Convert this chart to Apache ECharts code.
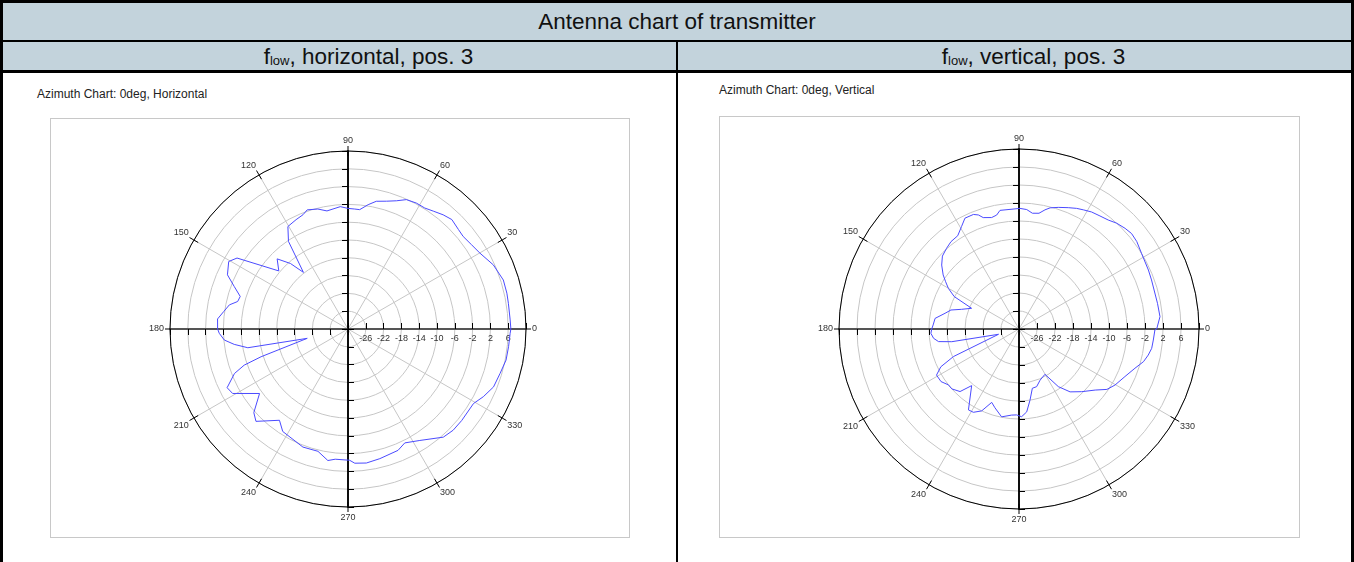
<!DOCTYPE html>
<html>
<head>
<meta charset="utf-8">
<title>Antenna chart of transmitter</title>
<script src="https://cdn.jsdelivr.net/npm/echarts/dist/echarts.min.js"></script>
<style>
body { margin: 0; width: 1354px; height: 562px; overflow: hidden; background: #fff; position: relative;
       font-family: 'Liberation Sans', Arial, sans-serif; color: #111; }
.blk { position: absolute; background: #000; }
.band { position: absolute; background: #c3d3dc; text-align: center; font-size: 22.5px; white-space: nowrap; }
.band sub { font-size: 13px; vertical-align: baseline; position: relative; top: 1px; }
.frame { position: absolute; border: 1px solid #c8c8c8; box-sizing: border-box; }
.cap { position: absolute; font-size: 12px; color: #222; white-space: nowrap; }
#chart { position: absolute; left: 0; top: 0; width: 1354px; height: 562px; }
</style>
</head>
<body>
<div class="band" style="left:0;top:3px;width:1354px;height:37px;line-height:38px;">Antenna chart of transmitter</div>
<div class="band" style="left:3px;top:42px;width:673px;height:28px;line-height:30px;"><span style="position:relative;left:29px">f<sub>low</sub>, horizontal, pos. 3</span></div>
<div class="band" style="left:678px;top:42px;width:673px;height:28px;line-height:30px;"><span style="position:relative;left:19px">f<sub>low</sub>, vertical, pos. 3</span></div>
<div class="blk" style="left:0;top:0;width:1354px;height:3px;"></div>
<div class="blk" style="left:0;top:40px;width:1354px;height:2px;"></div>
<div class="blk" style="left:0;top:70px;width:1354px;height:3px;"></div>
<div class="blk" style="left:0;top:0;width:3px;height:562px;"></div>
<div class="blk" style="left:1351px;top:0;width:3px;height:562px;"></div>
<div class="blk" style="left:676px;top:40px;width:2px;height:522px;"></div>

<div class="cap" style="left:37px;top:87px;">Azimuth Chart: 0deg, Horizontal</div>
<div class="frame" style="left:50px;top:118px;width:580px;height:420px;"></div>
<div class="cap" style="left:719px;top:83px;">Azimuth Chart: 0deg, Vertical</div>
<div class="frame" style="left:719px;top:116px;width:581px;height:422px;"></div>

<div id="chart"></div>
<script>
// gain in dB over azimuth in degrees
var hAngles = [0, 3.2, 9.1, 12.7, 17.5, 23.8, 29.9, 34.3, 38.8, 42, 46.5, 50.2, 54.1, 57.6, 61.5, 65.7, 69.3, 73.2, 77.5, 80.8,
    84.4, 86.8, 90, 93.6, 100.1, 104.1, 108.9, 111.5, 115.4, 120.4, 124.2, 128.2, 131.3, 135.3, 140, 147.4, 150.5, 155.8, 159.5, 163.2,
    166, 168.5, 172, 175.6, 180, 181.9, 185.1, 187.7, 190.6, 192.9, 197.7, 199.2, 201.4, 205.9, 209.2, 216.1, 221.6, 225.1, 233.1, 237.5,
    249.1, 256.2, 261.3, 264.4, 270.7, 272.9, 277.8, 283.8, 292.4, 296.5, 302.8, 311.4, 316.1, 321.2, 329.3, 333.4, 338.3, 343.7, 348.9, 353.7,
    358.5, 360];
var hGain = [6.6, 6.5, 6.5, 6.6, 6.6, 5.7, 4.2, 3.6, 3.2, 3.4, 3.9, 3.4, 2.7, 2.2, 2.2, 1.9, 0.8, 0.0, -0.6, -1.7,
    -3.05, -3.0, -2.9, -2.45, -3.05, -2.2, -1.7, -2.4, -2.8, -3.3, -6.2, -13.8, -10.4, -7.6, -9.7, -0.4, 0.8, -0.3, -2.7, -4.7,
    -4.45, -2.8, -1.8, -0.6, -0.7, -1.05, -2.1, -4.2, -7.1, -20.6, -9.5, -5.3, -2.6, 0.2, -0.3, -5.4, -1.7, -0.7, -4.35, -2.7,
    -1.6, -1.7, -0.1, -0.6, -0.5, 0.2, 0.4, 0.0, -0.5, -1.4, -0.2, 2.4, 2.8, 2.8, 2.8, 4.0, 5.2, 5.6, 6.2, 6.3,
    6.45, 6.6];

var vAngles = [0, 5, 10.5, 20.3, 24.5, 31.7, 36.6, 40.3, 43.5, 47.3, 50.7, 54.4, 58.2, 61.6, 64.5, 67.9, 72.1, 75.6, 77.7, 80.2,
    83.4, 86.3, 89.5, 99.1, 101.1, 103.8, 107.8, 109.6, 111.7, 116, 119.3, 123.3, 127.9, 131.9, 136.4, 140.4, 144.5, 147.2, 150.1, 153.4,
    156.4, 161.1, 164.4, 168, 172.8, 177.3, 180, 182.8, 186.2, 188.9, 190.7, 194.5, 202.8, 205.8, 209.2, 214, 218.4, 221.7, 226.7, 230.1,
    238, 241.3, 245.5, 249.6, 253, 258.8, 265.1, 268.4, 271.7, 275.3, 278.8, 282.7, 287, 292.4, 299.8, 304.3, 309.1, 315, 321.3, 325.5,
    329.7, 335.8, 341.3, 345.3, 348.6, 351.7, 355.3, 359.6, 360];
var vGain = [0.6, 1.45, 1.3, 1.4, 1.6, 2.0, 2.6, 2.8, 2.5, 2.0, 1.3, 0.9, 0.6, 0.1, -0.3, -0.9, -1.6, -2.2, -2.9, -3.9,
    -4.1, -3.4, -3.2, -3.3, -4.2, -4.5, -4.0, -3.1, -2.6, -2.6, -3.9, -5.2, -5.4, -5.9, -6.5, -7.7, -9.3, -10.6, -11.9, -13.9,
    -18.5, -16.5, -14.3, -13.2, -11.2, -10.9, -10.6, -10.4, -10.9, -11.9, -14.8, -25.3, -14.2, -10.7, -9.0, -9.1, -10.0, -10.0, -10.9, -13.6,
    -8.8, -8.9, -10.0, -12.6, -11.7, -10.1, -10.8, -10.9, -10.5, -11.5, -14.0, -16.5, -16.6, -17.7, -18.4, -14.5, -12.0, -10.3, -8.3, -6.3,
    -5.3, -4.2, -2.8, -1.4, -0.7, -0.2, -0.05, 0.2, 0.6];

var gainMin = -30, gainMax = 10, gainStep = 4;
var azStep = 30;

var chart = echarts.init(document.getElementById('chart'));
var polar = [], angleAxis = [], radiusAxis = [];

// one polar per arm and tick side, so the cross axis gets ticks on both sides
function addPolar(center, radius) {
    var first = polar.length;
    [0, 90, 180, 270].forEach(function (start) {
        [false, true].forEach(function (inside) {
            var main = start === 0 && !inside;
            var horiz = start === 0 || start === 180;
            var idx = polar.length;
            polar.push({ center: center, radius: radius });
            angleAxis.push({
                polarIndex: idx, type: 'value', min: 0, max: 360, interval: azStep,
                startAngle: start, clockwise: false,
                axisLine: { show: main, lineStyle: { color: '#000', width: 1 } },
                axisTick: { show: start === 0, inside: inside, length: 5, lineStyle: { color: '#000', width: 1 } },
                axisLabel: {
                    show: main, fontSize: 9, color: '#333', margin: 6, fontFamily: 'Liberation Sans',
                    formatter: function (v) { return v === 360 ? '' : v; }
                },
                splitLine: { show: main, lineStyle: { color: '#c6c6c6', width: 1 } }
            });
            radiusAxis.push({
                polarIndex: idx, type: 'value', min: gainMin, max: gainMax, interval: gainStep,
                axisLine: { show: true, lineStyle: { color: horiz ? '#555' : '#000', width: horiz ? 2 : 1.5 } },
                axisTick: { show: true, inside: inside, length: 6, lineStyle: { color: '#000', width: 1 } },
                // negative margin pushes the labels under the 0 deg arm
                axisLabel: {
                    show: main, showMinLabel: false, showMaxLabel: false, fontSize: 9, color: '#333',
                    margin: -14, fontFamily: 'Liberation Sans'
                },
                splitLine: { show: main, lineStyle: { color: '#c6c6c6', width: 1 } }
            });
        });
    });
    return first;
}

var leftPolar = addPolar([348, 329], 178);
var rightPolar = addPolar([1019, 329], 180);

function pairs(gain, angles) {
    return gain.map(function (g, i) { return [g, angles[i]]; });
}

chart.setOption({
    animation: false,
    polar: polar,
    angleAxis: angleAxis,
    radiusAxis: radiusAxis,
    series: [{
        name: 'Horizontal',
        type: 'line',
        coordinateSystem: 'polar',
        polarIndex: leftPolar,
        data: pairs(hGain, hAngles),
        symbol: 'none',
        lineStyle: { color: '#4b4bff', width: 1 },
        z: 5
    }, {
        name: 'Vertical',
        type: 'line',
        coordinateSystem: 'polar',
        polarIndex: rightPolar,
        data: pairs(vGain, vAngles),
        symbol: 'none',
        lineStyle: { color: '#4b4bff', width: 1 },
        z: 5
    }]
});
</script>
</body>
</html>
